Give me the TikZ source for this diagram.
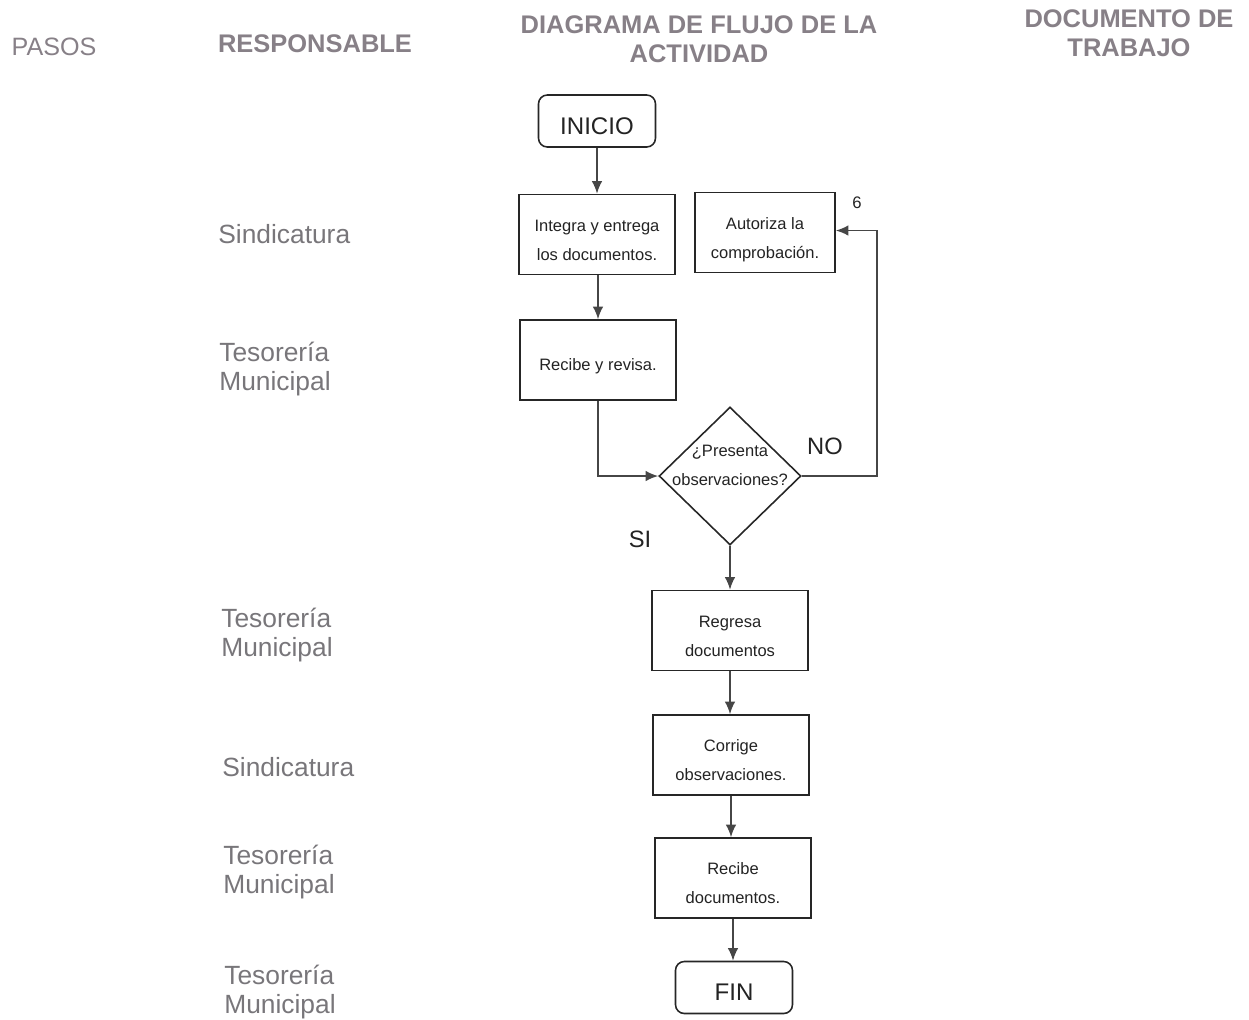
\documentclass[tikz,border=0pt]{standalone}
\usepackage{fontspec}
\setmainfont{Liberation Sans}
\usetikzlibrary{shapes.geometric,arrows.meta}
\definecolor{headgray}{RGB}{135,128,135}
\definecolor{labgray}{RGB}{120,118,122}
\definecolor{linegray}{RGB}{70,70,70}
\definecolor{boxtext}{RGB}{35,35,35}
\begin{document}
\begin{tikzpicture}[x=0.02cm,y=-0.02cm,
  head/.style={inner sep=0pt,text=headgray,align=center,font=\fontsize{14.5}{16.4}\selectfont\bfseries},
  headr/.style={inner sep=0pt,text=headgray,align=center,font=\fontsize{14.3}{16.4}\selectfont},
  resp/.style={inner sep=0pt,anchor=west,text=labgray,align=left,font=\fontsize{15}{16.4}\selectfont},
  stepbox/.style={draw=black!85,line width=0.9pt,minimum width=3.12cm,minimum height=1.6cm,align=center,text=boxtext,font=\fontsize{9.4}{16.4}\selectfont,inner sep=0pt,text height=29.2pt,text depth=0pt},
  onebox/.style={stepbox,text height=11.8pt},
  term/.style={draw=black!85,line width=0.9pt,rounded corners=5pt,minimum width=2.34cm,minimum height=1.04cm,text=boxtext,font=\fontsize{13.7}{16}\selectfont,inner sep=0pt,text height=15pt,text depth=0pt},
  decision/.style={draw=black!85,line width=0.9pt,diamond,minimum width=2.84cm,minimum height=2.76cm,inner sep=0pt},
  lbl/.style={inner sep=0pt,text=boxtext,font=\fontsize{13.5}{16}\selectfont},
  conn/.style={draw=linegray,line width=1pt,-{Latex[length=0.25cm,width=0.21cm]}}
]
\useasboundingbox (0,0) rectangle (1249,1019);
% headers
\node[headr] (hpasos) at (54,47) {PASOS};
\node[head] (hresp) at (315,44) {RESPONSABLE};
\node[head] (hdiag) at (699,39) {DIAGRAMA DE FLUJO DE LA\\ACTIVIDAD};
\node[head] (hdoc) at (1129,33) {DOCUMENTO DE\\TRABAJO};
% responsables
\node[resp] (r1) at (218,234) {Sindicatura};
\node[resp] (r2) at (219,369) {Tesorería\\Municipal};
\node[resp] (r3) at (221,635) {Tesorería\\Municipal};
\node[resp] (r4) at (222,767) {Sindicatura};
\node[resp] (r5) at (223,872) {Tesorería\\Municipal};
\node[resp] (r6) at (224,992) {Tesorería\\Municipal};
% flow
\node[term] (inicio) at (597,121) {INICIO};
\node[stepbox] (integra) at (597,234.5) {Integra y entrega\\los documentos.};
\node[stepbox,minimum width=2.8cm] (autoriza) at (765,232.5) {Autoriza la\\comprobación.};
\node[lbl,font=\fontsize{9.5}{11}\selectfont] (seis) at (857,203) {6};
\node[onebox] (recibe) at (598,360) {Recibe y revisa.};
\node[decision] (dec) at (730,476) {};
\node[inner sep=0pt,align=center,text=boxtext,font=\fontsize{9.4}{16.4}\selectfont] (dectext) at (730,465) {¿Presenta\\observaciones?};
\node[lbl] (no) at (825,446) {NO};
\node[lbl] (si) at (640,539) {SI};
\node[stepbox] (regresa) at (730,630.5) {Regresa\\documentos};
\node[stepbox] (corrige) at (731,755) {Corrige\\observaciones.};
\node[stepbox] (recdoc) at (733,878) {Recibe\\documentos.};
\node[term] (fin) at (734,987.5) {FIN};
% connectors
\draw[conn] (inicio) -- (integra);
\draw[conn] (integra.south -| recibe.north) -- (recibe.north);
\draw[conn] (recibe.south) |- (dec.west);
\draw[conn] (dec.east) -- ++(75,0) |- ([yshift=0.04cm]autoriza.east);
\draw[conn] (dec.south) -- (regresa.north);
\draw[conn] (regresa) -- (regresa.south |- corrige.north);
\draw[conn] (corrige.south) -- (corrige.south |- recdoc.north);
\draw[conn] (recdoc.south) -- (recdoc.south |- fin.north);
\end{tikzpicture}
\end{document}
